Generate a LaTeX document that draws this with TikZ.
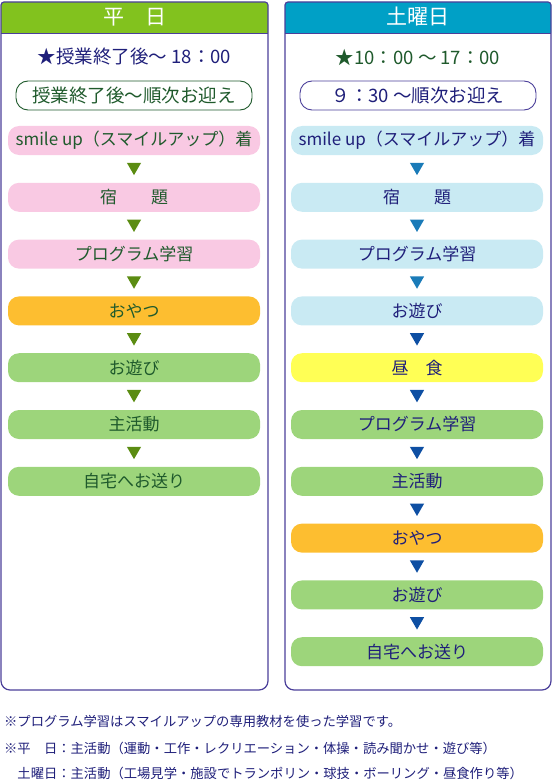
\documentclass[tikz,border=0pt]{standalone}
\usepackage{fontspec}
\setmainfont{Noto Sans CJK JP}
\usetikzlibrary{positioning,shapes.geometric}

\definecolor{framecol}{HTML}{4B3F9A}
\definecolor{hdgreen}{HTML}{82C21E}
\definecolor{hdblue}{HTML}{00A0C6}
\definecolor{navytxt}{HTML}{1F1F7A}
\definecolor{greentxt}{HTML}{1F5A2C}
\definecolor{pinkbox}{HTML}{F9C9E3}
\definecolor{skybox}{HTML}{C9EAF3}
\definecolor{orangebox}{HTML}{FDBE30}
\definecolor{greenbox}{HTML}{9DD57B}
\definecolor{yellowbox}{HTML}{FFFF55}
\definecolor{arrgreen}{HTML}{5B8C12}
\definecolor{arrteal}{HTML}{1A7BB8}
\definecolor{arrblue}{HTML}{0E4FA3}

\begin{document}
\begin{tikzpicture}[
  x=1pt, y=-1pt,
  node distance=27.8pt,
  panel/.style={draw=framecol, line width=1.2pt},
  hdtext/.style={text=white, font=\fontsize{21}{23}\selectfont},
  timetext/.style={font=\fontsize{18.5}{20}\selectfont},
  pill/.style={draw, line width=0.9pt, rounded corners=12pt, fill=white,
               minimum width=236pt, minimum height=29pt, inner sep=0pt,
               font=\fontsize{18.5}{20}\selectfont},
  stepbox/.style={rounded corners=11pt, minimum width=252pt, minimum height=29pt,
                  inner sep=0pt, outer sep=0pt, font=\fontsize{17}{19}\selectfont},
  wk/.style={stepbox, text=greentxt},
  sa/.style={stepbox, text=navytxt},
  tri/.style={regular polygon, regular polygon sides=3, shape border rotate=180,
              minimum size=16.5pt, inner sep=0pt, yshift=2pt},
  note/.style={anchor=west, text=navytxt, inner sep=0pt,
               font=\fontsize{13.3}{15}\selectfont},
]
\useasboundingbox (0,0) rectangle (552,781);

% ---- panels ----
\fill[hdgreen] (1,33) [rounded corners=3pt] -- (1,2) -- (268,2) [sharp corners] -- (268,33) -- cycle;
\fill[hdblue] (285,33) [rounded corners=3pt] -- (285,2) -- (551,2) [sharp corners] -- (551,33) -- cycle;
\draw[panel] (1,33) [rounded corners=3pt] -- (1,2) -- (268,2) [rounded corners=9pt] -- (268,690) -- (1,690) [sharp corners] -- cycle;
\draw[panel] (285,33) [rounded corners=3pt] -- (285,2) -- (551,2) [rounded corners=9pt] -- (551,690) -- (285,690) [sharp corners] -- cycle;
\draw[framecol, line width=0.8pt] (1,33) -- (268,33);
\draw[framecol, line width=0.8pt] (285,33) -- (551,33);

\node[hdtext] (wkhead) at (134.5,17) {平　日};
\node[hdtext] (sahead) at (418,17) {土曜日};

% ---- times ----
\node[timetext, text=navytxt] (wktime) at (134.5,57) {★授業終了後～ 18：00};
\node[timetext, text=greentxt] (satime) at (418,57) {★10：00 ～ 17：00};

\node[pill, draw=greentxt, text=greentxt] (wkpick) at (134,95.5) {授業終了後～順次お迎え};
\node[pill, draw=framecol, text=navytxt] (sapick) at (418,95.5) {９：30 ～順次お迎え};

% ---- weekday chain ----
\node[wk, fill=pinkbox] (wk1) at (134,140.5) {smile up（スマイルアップ）着};
\node[wk, fill=pinkbox,   below=of wk1] (wk2) {宿　　題};
\node[wk, fill=pinkbox,   below=of wk2] (wk3) {プログラム学習};
\node[wk, fill=orangebox, below=of wk3] (wk4) {おやつ};
\node[wk, fill=greenbox,  below=of wk4] (wk5) {お遊び};
\node[wk, fill=greenbox,  below=of wk5] (wk6) {主活動};
\node[wk, fill=greenbox,  below=of wk6] (wk7) {自宅へお送り};

\foreach \a/\b in {1/2,2/3,3/4,4/5,5/6,6/7}
  \path (wk\a) -- (wk\b) node[midway, tri, fill=arrgreen] (wkarr\a) {};

% ---- saturday chain ----
\node[sa, fill=skybox] (sa1) at (417,140.5) {smile up（スマイルアップ）着};
\node[sa, fill=skybox,    below=of sa1] (sa2) {宿　　題};
\node[sa, fill=skybox,    below=of sa2] (sa3) {プログラム学習};
\node[sa, fill=skybox,    below=of sa3] (sa4) {お遊び};
\node[sa, fill=yellowbox, below=of sa4] (sa5) {昼　食};
\node[sa, fill=greenbox,  below=of sa5] (sa6) {プログラム学習};
\node[sa, fill=greenbox,  below=of sa6] (sa7) {主活動};
\node[sa, fill=orangebox, below=of sa7] (sa8) {おやつ};
\node[sa, fill=greenbox,  below=of sa8] (sa9) {お遊び};
\node[sa, fill=greenbox,  below=of sa9] (sa10) {自宅へお送り};

\foreach \a/\b in {1/2,2/3,3/4}
  \path (sa\a) -- (sa\b) node[midway, tri, fill=arrteal] (saarr\a) {};
\foreach \a/\b in {4/5,5/6,6/7,7/8,8/9,9/10}
  \path (sa\a) -- (sa\b) node[midway, tri, fill=arrblue] (saarr\a) {};

% ---- notes ----
\node[note] (note1) at (4,721) {※プログラム学習はスマイルアップの専用教材を使った学習です。};
\node[note] (note2) at (4,748) {※平　日：主活動（運動・工作・レクリエーション・体操・読み聞かせ・遊び等）};
\node[note] (note3) at (4,773) {　土曜日：主活動（工場見学・施設でトランポリン・球技・ボーリング・昼食作り等）};

\end{tikzpicture}
\end{document}
